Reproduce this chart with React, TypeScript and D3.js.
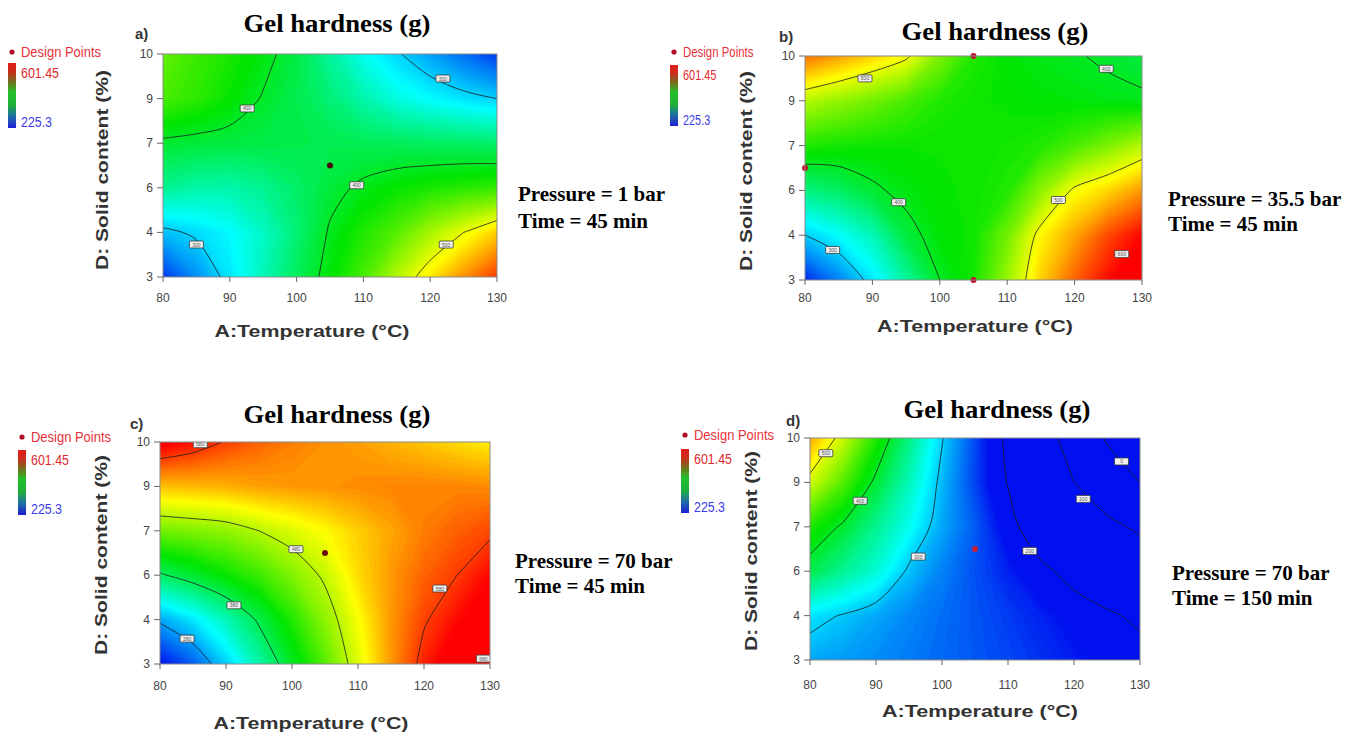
import React, { useEffect, useRef } from 'react';
import * as d3 from 'd3';

const W = 1347;
const H = 736;

// grid the surfaces were read on (rows go top -> bottom)
const temperatureGrid = [80, 85, 90, 95, 100, 105, 110, 115, 120, 125, 130];
const solidGrid = [10, 8.6, 7.2, 5.8, 4.4, 3];

const temperatureTicks = [80, 90, 100, 110, 120, 130];
const solidTicks = [3, 4.4, 5.8, 7.2, 8.6, 10];
const solidTickLabels = ['3', '4', '6', '7', '9', '10'];

const legendMax = 601.45;
const legendMin = 225.3;
const colourRange = ['#0010f0', '#00ffff', '#00e600', '#ffff00', '#ff0000'];

// Gel hardness (g), one row per solidGrid value
const hardnessA = [
  [450, 435, 422, 408, 388, 355, 325, 303, 282, 262, 242],
  [440, 430, 415, 398, 385, 370, 350, 330, 318, 308, 300],
  [395, 392, 390, 388, 386, 384, 382, 380, 378, 376, 373],
  [360, 352, 350, 360, 375, 392, 405, 415, 422, 428, 432],
  [293, 305, 318, 340, 370, 403, 425, 445, 475, 500, 525],
  [240, 275, 310, 345, 380, 410, 440, 480, 515, 548, 580],
];
const hardnessB = [
  [560, 542, 524, 505, 460, 425, 412, 406, 402, 396, 390],
  [480, 468, 455, 440, 425, 418, 415, 412, 410, 407, 404],
  [425, 420, 418, 417, 417, 418, 420, 425, 440, 460, 480],
  [365, 377, 395, 408, 415, 418, 425, 465, 505, 522, 545],
  [300, 320, 345, 390, 412, 418, 455, 510, 540, 575, 600],
  [235, 270, 310, 355, 400, 420, 470, 525, 565, 598, 620],
];
const hardnessC = [
  [610, 595, 578, 565, 555, 548, 542, 535, 528, 520, 512],
  [530, 533, 536, 542, 545, 547, 550, 552, 553, 552, 550],
  [455, 460, 466, 480, 494, 508, 525, 540, 555, 566, 575],
  [376, 395, 415, 435, 460, 485, 520, 545, 565, 580, 600],
  [285, 310, 345, 385, 425, 465, 505, 545, 577, 598, 620],
  [225, 255, 300, 350, 400, 445, 495, 545, 590, 620, 640],
];
const hardnessD = [
  [540, 488, 425, 365, 302, 248, 190, 130, 72, -8, -80],
  [490, 445, 393, 345, 292, 245, 198, 150, 100, 50, 0],
  [425, 395, 360, 325, 285, 255, 215, 170, 145, 118, 88],
  [385, 360, 335, 295, 270, 250, 232, 210, 185, 165, 150],
  [310, 298, 285, 272, 262, 252, 242, 232, 220, 206, 192],
  [285, 280, 274, 267, 260, 253, 246, 238, 230, 222, 214],
];

const levelsA = [300, 400, 500];
const levelsB = [300, 400, 500];
const levelsC = [280, 380, 480, 580];
const levelsD = [0, 100, 200, 300, 400, 500];

// contour label boxes: [temperature, solid content, level]
const labelsA = [[92.6, 8.29, 400], [121.9, 9.23, 300], [109, 5.88, 400], [85, 4.02, 300], [122.4, 4.02, 500]];
const labelsB = [[88.9, 9.3, 500], [124.7, 9.6, 400], [93.9, 5.43, 400], [84.1, 3.94, 300], [117.6, 5.5, 500], [127, 3.81, 600]];
const labelsC = [[86.1, 9.93, 580], [100.6, 6.62, 480], [91.2, 4.85, 380], [84.1, 3.8, 280], [122.4, 5.38, 580], [129, 3.17, 680]];
const labelsD = [[82.4, 9.52, 500], [87.6, 8.02, 400], [96.4, 6.26, 300], [113.3, 6.44, 200], [121.4, 8.08, 100], [127.2, 9.26, 0]];

const designA = [[105, 6.5]];
const designB = [[105, 10], [80, 6.5], [105, 3]];
const designC = [[105, 6.5]];
const designD = [[105, 6.5]];

const conditionsA = ['Pressure = 1 bar', 'Time = 45 min'];
const conditionsB = ['Pressure = 35.5 bar', 'Time = 45 min'];
const conditionsC = ['Pressure = 70 bar', 'Time = 45 min'];
const conditionsD = ['Pressure = 70 bar', 'Time = 150 min'];

const SERIF = "'Liberation Serif', 'Times New Roman', serif";
const SANS = "'Liberation Sans', Arial, sans-serif";
const NARROW = "'Liberation Sans Narrow', 'Liberation Sans', Arial, sans-serif";

const panels = [
  {
    key: 'a', letter: 'a)', grid: hardnessA, levels: levelsA, labels: labelsA, points: designA, conditions: conditionsA,
    box: { left: 163, right: 497, top: 54, bottom: 277 },
    title: [337, 32], letterAt: [135, 39], xTitle: [312, 337, 195], yTitle: [102, 170, 200],
    condAt: [518, 201, 228], legend: { x: 8, dot: 52, top: 63, bottom: 128, sx: 1 }, tickY: 302, dotColour: '#4a0c10',
  },
  {
    key: 'b', letter: 'b)', grid: hardnessB, levels: levelsB, labels: labelsB, points: designB, conditions: conditionsB,
    box: { left: 805, right: 1142, top: 56, bottom: 280 },
    title: [995, 40], letterAt: [779, 42], xTitle: [975, 332, 196], yTitle: [746, 171, 200],
    condAt: [1168, 206, 231], legend: { x: 670, dot: 52, top: 65, bottom: 126, sx: 0.88 }, tickY: 302, dotColour: '#c0102a',
  },
  {
    key: 'c', letter: 'c)', grid: hardnessC, levels: levelsC, labels: labelsC, points: designC, conditions: conditionsC,
    box: { left: 160, right: 490, top: 442, bottom: 664 },
    title: [337, 423], letterAt: [130, 429], xTitle: [311, 729, 195], yTitle: [101, 555, 200],
    condAt: [515, 568, 593], legend: { x: 18, dot: 437, top: 450, bottom: 515, sx: 1 }, tickY: 690, dotColour: '#6b0a0e',
  },
  {
    key: 'd', letter: 'd)', grid: hardnessD, levels: levelsD, labels: labelsD, points: designD, conditions: conditionsD,
    box: { left: 810, right: 1140, top: 438, bottom: 660 },
    title: [997, 418], letterAt: [786, 426], xTitle: [980, 717, 196], yTitle: [751, 551, 200],
    condAt: [1172, 580, 605], legend: { x: 681, dot: 435, top: 449, bottom: 513, sx: 1 }, tickY: 689, dotColour: '#c82030',
  },
];

const colourStops = d3.quantize(d3.interpolateNumber(legendMin, legendMax), colourRange.length);
const colour = d3.scaleLinear<string>().domain(colourStops).range(colourRange).clamp(true);
const bandCount = 120;
const bandStep = (legendMax - legendMin) / bandCount;
const fillThresholds = d3.range(bandCount + 1).map((i) => legendMin + i * bandStep);

// keep only the parts of each contour ring that lie inside the sampled grid
function ringRuns(ring: number[][], nx: number, ny: number) {
  const eps = 1e-6;
  const inside = (p: number[]) =>
    p[0] >= 0.5 - eps && p[0] <= nx - 0.5 + eps && p[1] >= 0.5 - eps && p[1] <= ny - 0.5 + eps;
  const runs: number[][][] = [];
  let run: number[][] = [];
  let cut = false;
  ring.forEach((p) => {
    if (inside(p)) run.push(p);
    else {
      cut = true;
      if (run.length > 1) runs.push(run);
      run = [];
    }
  });
  if (run.length > 1) runs.push(run);
  if (cut && runs.length > 1 && inside(ring[0]) && inside(ring[ring.length - 1])) {
    const last = runs.pop() as number[][];
    runs[0] = last.concat(runs[0].slice(1));
  }
  return runs;
}

function drawPanel(svg: any, defs: any, p: any) {
  const g = svg.append('g');
  const { left, right, top, bottom } = p.box;
  const x = d3.scaleLinear().domain([80, 130]).range([left, right]);
  const y = d3.scaleLinear().domain([3, 10]).range([bottom, top]);

  const clipId = `clip-${p.key}`;
  defs.append('clipPath').attr('id', clipId)
    .append('rect').attr('x', left).attr('y', top).attr('width', right - left).attr('height', bottom - top);

  const nx = temperatureGrid.length;
  const ny = solidGrid.length;
  const gx = d3.scaleLinear().domain([0.5, nx - 0.5]).range([x(temperatureGrid[0]), x(temperatureGrid[nx - 1])]);
  const gy = d3.scaleLinear().domain([0.5, ny - 0.5]).range([y(solidGrid[0]), y(solidGrid[ny - 1])]);
  const path = d3.geoPath(d3.geoTransform({
    point(px: number, py: number) { (this as any).stream.point(gx(px), gy(py)); },
  }));
  const values = p.grid.flat();

  const surface = g.append('g').attr('clip-path', `url(#${clipId})`);
  surface.append('rect')
    .attr('x', left).attr('y', top).attr('width', right - left).attr('height', bottom - top)
    .attr('fill', colour(legendMin));

  const bands = d3.contours().size([nx, ny]).thresholds(fillThresholds)(values);
  surface.append('g').selectAll('path').data(bands).join('path')
    .attr('d', (d: any) => path(d))
    .attr('fill', (d: any) => colour(d.value + bandStep / 2))
    .attr('stroke', (d: any) => colour(d.value + bandStep / 2))
    .attr('stroke-width', 0.4);

  // contour lines, smoothed
  const lines = d3.contours().size([nx, ny]).thresholds(p.levels)(values);
  const lineGen = d3.line()
    .x((d: any) => gx(d[0]))
    .y((d: any) => gy(d[1]))
    .curve(d3.curveCatmullRom.alpha(0.5));
  const runs: number[][][] = [];
  lines.forEach((mp: any) => {
    mp.coordinates.forEach((poly: any) => {
      poly.forEach((ring: any) => runs.push(...ringRuns(ring, nx, ny)));
    });
  });
  surface.append('g').selectAll('path').data(runs).join('path')
    .attr('d', (d: any) => lineGen(d))
    .attr('fill', 'none')
    .attr('stroke', '#1c1c1c')
    .attr('stroke-opacity', 0.8)
    .attr('stroke-width', 1);

  // contour label boxes
  const lab = surface.append('g').selectAll('g').data(p.labels).join('g')
    .attr('transform', (d: any) => `translate(${x(d[0])},${y(d[1])})`);
  lab.append('rect')
    .attr('x', -7).attr('y', -3.5).attr('width', 14).attr('height', 7).attr('rx', 1)
    .attr('fill', '#f0f0f0').attr('stroke', '#3a3a3a').attr('stroke-width', 0.8);
  lab.append('text')
    .attr('text-anchor', 'middle').attr('y', 2)
    .attr('font-family', SANS).attr('font-size', 5).attr('fill', '#555')
    .text((d: any) => d[2]);

  // design points
  g.append('g').selectAll('circle').data(p.points).join('circle')
    .attr('cx', (d: any) => x(d[0])).attr('cy', (d: any) => y(d[1])).attr('r', 3)
    .attr('fill', p.dotColour);

  // frame and ticks
  g.append('rect')
    .attr('x', left).attr('y', top).attr('width', right - left).attr('height', bottom - top)
    .attr('fill', 'none').attr('stroke', '#8a8a8a').attr('stroke-width', 1);

  g.append('g').selectAll('line').data(temperatureTicks).join('line')
    .attr('x1', (d: number) => x(d)).attr('x2', (d: number) => x(d))
    .attr('y1', bottom).attr('y2', bottom + 5)
    .attr('stroke', '#666');
  g.append('g').selectAll('text').data(temperatureTicks).join('text')
    .attr('x', (d: number) => x(d)).attr('y', p.tickY)
    .attr('text-anchor', 'middle').attr('font-family', SANS).attr('font-size', 12).attr('fill', '#444')
    .text((d: number) => d);

  g.append('g').selectAll('line').data(solidTicks).join('line')
    .attr('x1', left - 6).attr('x2', left)
    .attr('y1', (d: number) => y(d)).attr('y2', (d: number) => y(d))
    .attr('stroke', '#666');
  g.append('g').selectAll('text').data(solidTicks).join('text')
    .attr('x', left - 10).attr('y', (d: number) => y(d) + 4)
    .attr('text-anchor', 'end').attr('font-family', SANS).attr('font-size', 12).attr('fill', '#444')
    .text((d: number, i: number) => solidTickLabels[i]);

  // axis titles
  g.append('text')
    .attr('x', p.xTitle[0]).attr('y', p.xTitle[1])
    .attr('text-anchor', 'middle').attr('font-family', SANS).attr('font-weight', 'bold')
    .attr('font-size', 17).attr('fill', '#333')
    .attr('textLength', p.xTitle[2]).attr('lengthAdjust', 'spacingAndGlyphs')
    .text('A:Temperature (°C)');
  g.append('text')
    .attr('transform', `translate(${p.yTitle[0]},${p.yTitle[1]}) rotate(-90)`)
    .attr('dy', '0.35em')
    .attr('text-anchor', 'middle').attr('font-family', SANS).attr('font-weight', 'bold')
    .attr('font-size', 17).attr('fill', '#333')
    .attr('textLength', p.yTitle[2]).attr('lengthAdjust', 'spacingAndGlyphs')
    .text('D: Solid content (%)');

  // title, panel letter, conditions
  g.append('text')
    .attr('x', p.title[0]).attr('y', p.title[1])
    .attr('text-anchor', 'middle').attr('font-family', SERIF).attr('font-weight', 'bold')
    .attr('font-size', 26).attr('fill', '#000')
    .attr('textLength', 187).attr('lengthAdjust', 'spacingAndGlyphs')
    .text('Gel hardness (g)');
  g.append('text')
    .attr('x', p.letterAt[0]).attr('y', p.letterAt[1])
    .attr('font-family', SANS).attr('font-weight', 'bold').attr('font-size', 15).attr('fill', '#333')
    .text(p.letter);
  g.append('g').selectAll('text').data(p.conditions).join('text')
    .attr('x', p.condAt[0]).attr('y', (d: string, i: number) => p.condAt[1 + i])
    .attr('font-family', SERIF).attr('font-weight', 'bold').attr('font-size', 21).attr('fill', '#000')
    .text((d: string) => d);

  // legend
  const L = p.legend;
  g.append('circle').attr('cx', L.x + 4).attr('cy', L.dot).attr('r', 2.6).attr('fill', '#b0102a');
  g.append('text')
    .attr('x', L.x + 13).attr('y', L.dot + 5)
    .attr('font-family', NARROW).attr('font-size', 14).attr('fill', '#e8303a')
    .attr('textLength', 80 * L.sx).attr('lengthAdjust', 'spacingAndGlyphs')
    .text('Design Points');
  g.append('rect')
    .attr('x', L.x).attr('y', L.top).attr('width', 8).attr('height', L.bottom - L.top)
    .attr('fill', 'url(#legend-grad)');
  g.append('text')
    .attr('x', L.x + 13).attr('y', L.top + 15)
    .attr('font-family', NARROW).attr('font-size', 15).attr('fill', '#e0282a')
    .attr('textLength', 38 * L.sx).attr('lengthAdjust', 'spacingAndGlyphs')
    .text(legendMax);
  g.append('text')
    .attr('x', L.x + 13).attr('y', L.bottom - 1)
    .attr('font-family', NARROW).attr('font-size', 15).attr('fill', '#3c3ce6')
    .attr('textLength', 31 * L.sx).attr('lengthAdjust', 'spacingAndGlyphs')
    .text(legendMin);
}

export default function App() {
  const ref = useRef<SVGSVGElement>(null);

  useEffect(() => {
    document.body.style.margin = '0';
    const svg = d3.select(ref.current);
    svg.selectAll('*').remove();
    svg.attr('width', W).attr('height', H).style('display', 'block').style('background', '#fff');

    const defs = svg.append('defs');
    const grad = defs.append('linearGradient').attr('id', 'legend-grad')
      .attr('x1', 0).attr('y1', 1).attr('x2', 0).attr('y2', 0);
    const legendStops = [
      [0, '#1e1ed2'], [0.18, '#1f6fa8'], [0.35, '#1fae3c'], [0.55, '#22c02a'],
      [0.72, '#7a6a1e'], [0.88, '#d0281c'], [1, '#e0201c'],
    ];
    grad.selectAll('stop').data(legendStops).join('stop')
      .attr('offset', (d: any) => d[0]).attr('stop-color', (d: any) => d[1]);

    panels.forEach((p) => drawPanel(svg, defs, p));
  }, []);

  return <svg ref={ref} />;
}
